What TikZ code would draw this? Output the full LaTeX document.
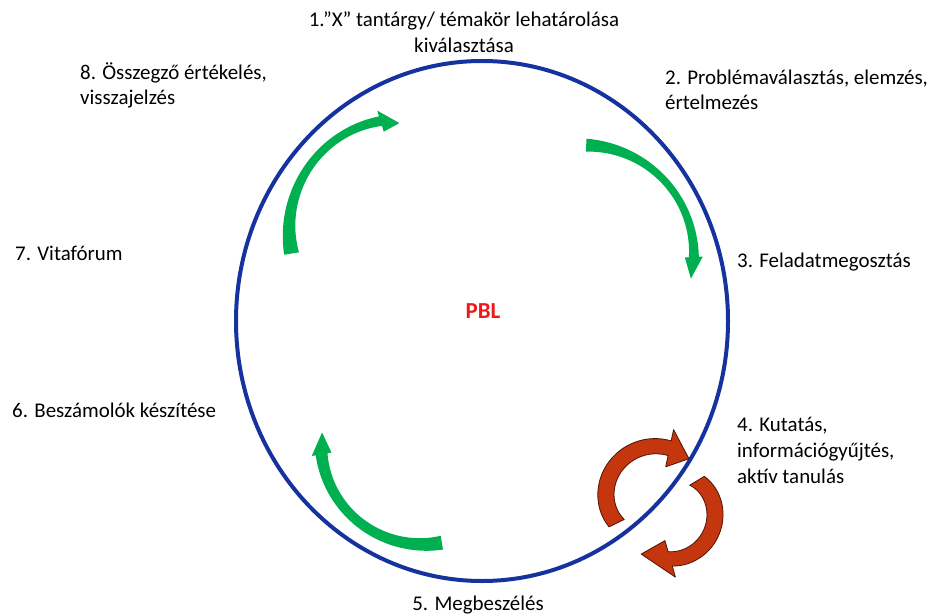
\documentclass[tikz,border=0pt]{standalone}
\usepackage{fontspec}
\setmainfont{Carlito}
\usetikzlibrary{arrows.meta}
\definecolor{ringblue}{RGB}{22,50,158}
\definecolor{arrgreen}{RGB}{0,176,80}
\definecolor{arrred}{RGB}{196,54,14}
\definecolor{arrredline}{RGB}{80,18,5}
\definecolor{pblred}{RGB}{240,24,24}
\pgfkeys{/carrow/.cd,
 cx/.store in=\CAcx, cy/.store in=\CAcy, az/.store in=\CAaz, ao/.store in=\CAao, at/.store in=\CAat,
 rz/.store in=\CArz, ro/.store in=\CAro, rb/.store in=\CArb, rt/.store in=\CArt,
 wz/.store in=\CAwz, wo/.store in=\CAwo, wb/.store in=\CAwb, hw/.store in=\CAhw}
\newcommand\carrow[2][]{\begingroup\pgfkeys{/carrow/.cd, rb=0, wb=0, #2}%
 \path[shift={(\CAcx,\CAcy)},#1]
  plot[domain=0:1,samples=40,variable=\s] ({\CAaz+(\CAao-\CAaz)*\s}:{\CArz*(1-\s)+\CAro*\s+4*\CArb*\s*(1-\s)+(\CAwz*(1-\s)+\CAwo*\s-4*\CAwb*\s*(1-\s))/2})
  -- ({\CAao}:{\CAro+\CAhw}) -- ({\CAat}:{\CArt}) -- ({\CAao}:{\CAro-\CAhw})
  -- plot[domain=1:0,samples=40,variable=\s] ({\CAaz+(\CAao-\CAaz)*\s}:{\CArz*(1-\s)+\CAro*\s+4*\CArb*\s*(1-\s)-(\CAwz*(1-\s)+\CAwo*\s-4*\CAwb*\s*(1-\s))/2})
  -- cycle;\endgroup}
\tikzset{
 lbl/.style={font=\fontsize{21}{26}\selectfont, inner sep=0pt, text=black},
 greenarrow/.style={fill=arrgreen},
 redarrow/.style={fill=arrred, draw=arrredline, line width=0.8bp, line join=round}
}
\begin{document}
\begin{tikzpicture}[x=1bp,y=-1bp]
\useasboundingbox (0,0) rectangle (937,616);
% ring
\draw[ringblue, line width=4bp] (482,321) ellipse [x radius=246, y radius=260];
% green arrows
\carrow[greenarrow]{cx=415,cy=234,az=171,ao=253,at=262,rz=125,ro=118,rb=4,rt=112,wz=15,wo=10,wb=4,hw=11}
\carrow[greenarrow]{cx=580,cy=263,az=273,ao=357,at=368,rz=118,ro=114,rb=2,rt=112,wz=13,wo=10,wb=4,hw=9}
\carrow[greenarrow]{cx=425,cy=436,az=81,ao=170,at=182,rz=108,ro=105,rb=2,rt=103,wz=14,wo=12,wb=3,hw=10}
% red arrows
\carrow[redarrow]{cx=658,cy=503,az=154,ao=282,at=305,rz=46,ro=56,rb=5,rt=54,wz=17,wo=15,hw=19}
\carrow[redarrow]{cx=655,cy=506,az=-31,ao=74,at=106,rz=49,ro=55,rb=10,rt=50,wz=17,wo=15,hw=19}
% labels
\node[lbl, anchor=base] (t1a) at (464,27) {1.”X” tantárgy/ témakör lehatárolása};
\node[lbl, anchor=base] (t1b) at (464,53) {kiválasztása};
\node[lbl, anchor=base west] (t2a) at (665,85) {2. Problémaválasztás, elemzés,};
\node[lbl, anchor=base west] (t2b) at (665,110) {értelmezés};
\node[lbl, anchor=base west] (t3) at (737,268) {3. Feladatmegosztás};
\node[lbl, anchor=base west] (t4a) at (737,431) {4. Kutatás,};
\node[lbl, anchor=base west] (t4b) at (737,457) {információgyűjtés,};
\node[lbl, anchor=base west] (t4c) at (737,483) {aktív tanulás};
\node[lbl, anchor=base] (t5) at (478,610) {5. Megbeszélés};
\node[lbl, anchor=base west] (t6) at (12,417) {6. Beszámolók készítése};
\node[lbl, anchor=base west] (t7) at (15,261) {7. Vitafórum};
\node[lbl, anchor=base west] (t8a) at (80,80) {8. Összegző értékelés,};
\node[lbl, anchor=base west] (t8b) at (80,105) {visszajelzés};
\node[lbl, anchor=base, text=pblred, font=\fontsize{23}{26}\selectfont\bfseries] (pbl) at (483,318) {PBL};
\end{tikzpicture}
\end{document}
